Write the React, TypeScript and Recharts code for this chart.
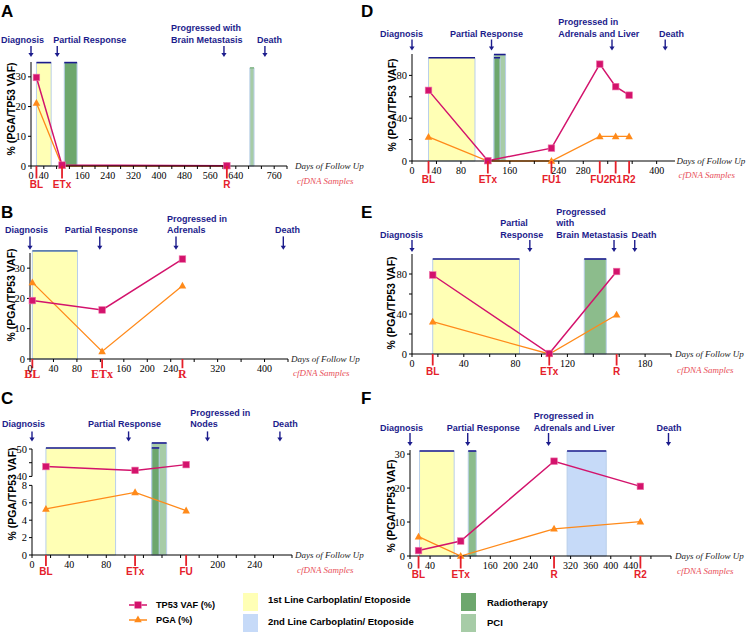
import React from "react";
import {
  ComposedChart,
  Line,
  XAxis,
  YAxis,
  ReferenceArea,
  ReferenceLine,
  ReferenceDot,
} from "recharts";

// ---- data (days of follow up, % values) ----

// A
const aDays = [17, 97, 612];
const aSamples = ["BL", "ETx", "R"];
const aTp53 = [29.8, 0.3, 0.1];
const aPga = [21.2, 0, 0];
const aEventDays = [0, 82, 603, 731];
const aEvents = [["Diagnosis"], ["Partial Response"], ["Progressed with", "Brain Metastasis"], ["Death"]];
const aTreatDays: [number, number][] = [[17, 63], [104, 144], [684, 697]];
const aTreatKinds = ["first", "radio", "pci"];

// B
const bDays = [4, 123, 260];
const bSamples = ["BL", "ETx", "R"];
const bTp53 = [19.3, 16.2, 33];
const bPga = [25.3, 2.5, 24.2];
const bEventDays = [0, 119, 249, 432];
const bEvents = [["Diagnosis"], ["Partial Response"], ["Progressed in", "Adrenals"], ["Death"]];
const bTreatDays: [number, number][] = [[4, 81]];
const bTreatKinds = ["first"];

// C (TP53 on the upper part of a broken axis)
const cDays = [15, 111, 166];
const cSamples = ["BL", "ETx", "FU"];
const cTp53 = [43.6, 42.2, 44.3];
const cPga = [5.3, 7.2, 5.1];
const cEventDays = [0, 104, 189, 267];
const cEvents = [["Diagnosis"], ["Partial Response"], ["Progressed in", "Nodes"], ["Death"]];
const cTreatDays: [number, number][] = [[15, 90], [129, 145], [129, 137]];
const cTreatKinds = ["first", "pci", "radio"];

// D
const dDays = [27, 124, 228, 307, 333, 355];
const dSamples = ["BL", "ETx", "FU1", "FU2", "R1", "R2"];
const dTp53 = [66, 0.3, 12, 90.5, 69.5, 61.5];
const dPga = [22.5, 0, 0, 23, 23, 23];
const dEventDays = [0, 130, 327, 414];
const dEvents = [["Diagnosis"], ["Partial Response"], ["Progressed in", "Adrenals and Liver"], ["Death"]];
const dTreatDays: [number, number][] = [[27, 103], [134, 153], [134, 144]];
const dTreatKinds = ["first", "pci", "radio"];

// E
const eDays = [16, 106, 158];
const eSamples = ["BL", "ETx", "R"];
const eTp53 = [79, 0.5, 82.5];
const ePga = [32.3, 0, 39.3];
const eEventDays = [0, 91, 156, 172];
const eEvents = [["Diagnosis"], ["Partial", "Response"], ["Progressed", "with", "Brain Metastasis"], ["Death"]];
const eTreatDays: [number, number][] = [[16, 83], [133, 150]];
const eTreatKinds = ["first", "rt"];

// F
const fDays = [17, 101, 287, 459];
const fSamples = ["BL", "ETx", "R", "R2"];
const fTp53 = [1.6, 4.4, 27.9, 20.5];
const fPga = [5.7, 0, 8, 10.1];
const fEventDays = [0, 115, 276, 515];
const fEvents = [["Diagnosis"], ["Partial Response"], ["Progressed in", "Adrenals and Liver"], ["Death"]];
const fTreatDays: [number, number][] = [[19, 88], [116, 132], [313, 391]];
const fTreatKinds = ["first", "rt", "second"];

// ---- styles ----
const NAVY = "#1C1C8C";
const PINK = "#D3136C";
const ORANGE = "#FF8A1A";
const RED = "#E5202A";
const SANS = "'Liberation Sans', Arial, sans-serif";
const SERIF = "'Liberation Serif', 'Times New Roman', serif";

const FILLS: Record<string, string> = {
  first: "#FFFFB5",
  second: "#C6DAF8",
  radio: "#6DA76D",
  rt: "#8CBC8C",
  pci: "#A7CCA7",
};

// break of the y axis in panel C: 40..50 sits above 0..8
const cBreakBase = 9.03;
const cBreakScale = 0.315;
const cMap = (v: number) => cBreakBase + (v - 40) * cBreakScale;

type Spec = {
  left: number;
  top: number;
  width: number;
  yW: number;
  mt: number;
  mr: number;
  xH: number;
  xMax: number;
  yMax: number;
  xTicks: number[];
  xLabels: number[];
  yTicks: number[];
  yFmt: (v: number) => string;
  days: number[];
  tp53: number[];
  pga: number[];
  samples: string[];
  eventDays: number[];
  events: string[][];
  eventDx: number[];
  treatDays: [number, number][];
  treatKinds: string[];
  treatTops: number[];
  treatLine: string[];
  textOff: number;
  a1: number;
  a2: number;
  sampleDy: number;
  sampleSerif?: boolean;
  daysDx: number;
  cfDy: number;
  tpMap?: (v: number) => number;
  axisSegments?: [number, number][];
};

const PANEL_H = 195;

const specs: Spec[] = [
  {
    left: 0, top: 0, width: 373, yW: 31, mt: 62, mr: 86, xH: 29,
    xMax: 800, yMax: 35,
    xTicks: [0, 40, 80, 120, 160, 200, 240, 280, 320, 360, 400, 440, 480, 520, 560, 600, 640, 680, 720, 760, 800],
    xLabels: [0, 40, 160, 240, 320, 400, 480, 560, 640, 760],
    yTicks: [0, 10, 20, 30], yFmt: (v) => String(v),
    days: aDays, tp53: aTp53, pga: aPga, samples: aSamples,
    eventDays: aEventDays, events: aEvents, eventDx: [-30, -4, -53, -8],
    treatDays: aTreatDays, treatKinds: aTreatKinds, treatTops: [34.8, 34.8, 33],
    treatLine: [NAVY, NAVY, "#86B886"],
    textOff: 22.5, a1: 16, a2: 5, sampleDy: 18, daysDx: 8, cfDy: 15,
  },
  {
    left: 373, top: 0, width: 374, yW: 39, mt: 54, mr: 72, xH: 34,
    xMax: 430, yMax: 100,
    xTicks: [0, 40, 80, 120, 160, 200, 240, 280, 320, 360, 400],
    xLabels: [0, 40, 80, 160, 240, 280, 400],
    yTicks: [0, 20, 40, 60, 80], yFmt: (v) => (v % 40 === 0 ? String(v) : ""),
    days: dDays, tp53: dTp53, pga: dPga, samples: dSamples,
    eventDays: dEventDays, events: dEvents, eventDx: [-32, -41.6, -53.7, -6.3],
    treatDays: dTreatDays, treatKinds: dTreatKinds, treatTops: [96.5, 99.5, 96.5],
    treatLine: [NAVY, NAVY, NAVY],
    textOff: 20.5, a1: 14.5, a2: 3.5, sampleDy: 18, daysDx: 1.5, cfDy: 14,
  },
  {
    left: 0, top: 195, width: 373, yW: 30, mt: 58, mr: 85, xH: 31,
    xMax: 440, yMax: 35,
    xTicks: [0, 40, 80, 120, 160, 200, 240, 280, 320, 360, 400, 440],
    xLabels: [0, 40, 80, 160, 200, 240, 320, 400],
    yTicks: [0, 10, 20, 30], yFmt: (v) => String(v),
    days: bDays, tp53: bTp53, pga: bPga, samples: bSamples,
    eventDays: bEventDays, events: bEvents, eventDx: [-25, -35, -9, -8.3],
    treatDays: bTreatDays, treatKinds: bTreatKinds, treatTops: [35.7],
    treatLine: ["#5E7FB0"],
    textOff: 22.6, a1: 16.6, a2: 3.3, sampleDy: 14.7, sampleSerif: true, daysDx: 3, cfDy: 14,
  },
  {
    left: 373, top: 195, width: 374, yW: 39, mt: 59, mr: 76, xH: 36,
    xMax: 200, yMax: 100,
    xTicks: [0, 20, 40, 60, 80, 100, 120, 140, 160, 180, 200],
    xLabels: [0, 40, 80, 120, 180],
    yTicks: [0, 20, 40, 60, 80], yFmt: (v) => (v % 40 === 0 ? String(v) : ""),
    days: eDays, tp53: eTp53, pga: ePga, samples: eSamples,
    eventDays: eEventDays, events: eEvents, eventDx: [-32, -29.6, -57.7, -3.3],
    treatDays: eTreatDays, treatKinds: eTreatKinds, treatTops: [95, 95],
    treatLine: [NAVY, NAVY],
    textOff: 19.5, a1: 14, a2: 2, sampleDy: 17, daysDx: 4, cfDy: 15.7,
  },
  {
    left: 0, top: 390, width: 373, yW: 32, mt: 59, mr: 81, xH: 30,
    xMax: 280, yMax: 12.18,
    xTicks: [0, 20, 40, 60, 80, 100, 120, 140, 160, 180, 200, 220, 240, 260, 280],
    xLabels: [0, 40, 80, 200, 240],
    yTicks: [0, 2, 4, 6, 8, cMap(40), cMap(45), cMap(50)],
    yFmt: (v) => (v <= 8 ? String(v) : Math.abs(v - cMap(40)) < 0.01 ? "40" : Math.abs(v - cMap(50)) < 0.01 ? "50" : ""),
    days: cDays, tp53: cTp53, pga: cPga, samples: cSamples,
    eventDays: cEventDays, events: cEvents, eventDx: [-30, -40.6, -17.3, -7.3],
    treatDays: cTreatDays, treatKinds: cTreatKinds, treatTops: [12.3, 12.87, 12.3],
    treatLine: [NAVY, NAVY, NAVY],
    textOff: 25, a1: 17.6, a2: 7.6, sampleDy: 16.4, daysDx: 3, cfDy: 14.7,
    tpMap: cMap,
    axisSegments: [[0, 8], [cMap(40), cMap(50)]],
  },
  {
    left: 373, top: 390, width: 374, yW: 37, mt: 60, mr: 76, xH: 29,
    xMax: 520, yMax: 31.2,
    xTicks: [0, 40, 80, 120, 160, 200, 240, 280, 320, 360, 400, 440, 480, 520],
    xLabels: [0, 40, 160, 200, 240, 320, 360, 400, 440],
    yTicks: [0, 10, 20, 30], yFmt: (v) => String(v),
    days: fDays, tp53: fTp53, pga: fPga, samples: fSamples,
    eventDays: fEventDays, events: fEvents, eventDx: [-30, -21, -14.7, -12],
    treatDays: fTreatDays, treatKinds: fTreatKinds, treatTops: [30.9, 30.9, 30.9],
    treatLine: [NAVY, NAVY, NAVY],
    textOff: 22.5, a1: 17, a2: 4, sampleDy: 18, daysDx: 4, cfDy: 14.7,
  },
];

const square = (p: any) => {
  if (p.cx == null) return <g key={p.key} />;
  return (
    <rect key={p.key} x={p.cx - 3.3} y={p.cy - 3.3} width={6.6} height={6.6}
      fill={PINK} stroke="#EE74AA" strokeWidth={0.6} />
  );
};

const triangle = (p: any) => {
  if (p.cx == null) return <g key={p.key} />;
  const { cx, cy } = p;
  return <path key={p.key} d={`M${cx},${cy - 4} L${cx + 3.8},${cy + 2.8} L${cx - 3.8},${cy + 2.8} Z`} fill={ORANGE} />;
};

function Panel({ s }: { s: Spec }) {
  const rows = s.days.map((d, i) => ({
    day: d,
    tp53: s.tpMap ? s.tpMap(s.tp53[i]) : s.tp53[i],
    pga: s.pga[i],
  }));

  const xTick = (p: any) => {
    const v = p.payload.value;
    if (!s.xLabels.includes(v)) return <g />;
    return (
      <text x={p.x} y={p.y + 6} textAnchor="middle" dominantBaseline="central"
        fontFamily={SERIF} fontSize={10} fill="#000">{v}</text>
    );
  };
  const yTick = (p: any) => (
    <text x={p.x} y={p.y} textAnchor="end" dominantBaseline="central"
      fontFamily={SERIF} fontSize={10.5} fill="#000">{s.yFmt(p.payload.value)}</text>
  );

  return (
    <div style={{ position: "absolute", left: s.left, top: s.top }}>
      <ComposedChart width={s.width} height={PANEL_H} data={rows}
        margin={{ top: s.mt, right: s.mr, left: 0, bottom: 0 }}>
        <XAxis type="number" dataKey="day" domain={[0, s.xMax]} ticks={s.xTicks} interval={0}
          height={s.xH} tickSize={3} tickMargin={0} stroke="#000" tick={xTick} />
        <YAxis type="number" domain={[0, s.yMax]} ticks={s.yTicks} interval={0}
          width={s.yW} tickSize={3} tickMargin={2} stroke="#000" tick={yTick}
          axisLine={!s.axisSegments} />
        {s.axisSegments &&
          s.axisSegments.map(([y1, y2], i) => (
            <ReferenceLine key={"ax" + i} segment={[{ x: 0, y: y1 }, { x: 0, y: y2 }]}
              stroke="#000" strokeWidth={1} ifOverflow="visible" />
          ))}
        {s.treatDays.map(([a, b], i) => (
          <ReferenceArea key={"t" + i} x1={a} x2={b} y1={0} y2={s.treatTops[i]}
            fill={FILLS[s.treatKinds[i]]} fillOpacity={1} stroke="#B9CFEA" strokeWidth={1}
            ifOverflow="visible" />
        ))}
        {s.treatDays.map(([a, b], i) => (
          <ReferenceLine key={"tl" + i} segment={[{ x: a, y: s.treatTops[i] }, { x: b, y: s.treatTops[i] }]}
            stroke={s.treatLine[i]} strokeWidth={1.6} ifOverflow="visible" />
        ))}
        <Line type="linear" dataKey="pga" stroke={ORANGE} strokeWidth={1.3}
          dot={triangle} activeDot={false} isAnimationActive={false} />
        <Line type="linear" dataKey="tp53" stroke={PINK} strokeWidth={1.5}
          dot={square} activeDot={false} isAnimationActive={false} />
        {s.eventDays.map((d, i) => (
          <ReferenceDot key={"e" + i} x={d} y={s.yMax} ifOverflow="visible"
            shape={(p: any) => {
              const { cx, cy } = p;
              const lines = s.events[i];
              const head = cy - s.a2;
              return (
                <g>
                  <line x1={cx} x2={cx} y1={cy - s.a1} y2={head - 3} stroke={NAVY} strokeWidth={1.4} />
                  <path d={`M${cx - 2.6},${head - 4} L${cx + 2.6},${head - 4} L${cx},${head} Z`} fill={NAVY} />
                  {lines.map((t, k) => (
                    <text key={k} x={cx + s.eventDx[i]}
                      y={cy - s.textOff - (lines.length - 1 - k) * 11.3}
                      dominantBaseline="central" fontFamily={SANS} fontWeight="bold"
                      fontSize={9} fill={NAVY}>{t}</text>
                  ))}
                </g>
              );
            }} />
        ))}
        {s.days.map((d, i) => (
          <ReferenceDot key={"s" + i} x={d} y={0} ifOverflow="visible"
            shape={(p: any) => (
              <g>
                <line x1={p.cx} x2={p.cx} y1={p.cy} y2={p.cy + s.sampleDy - 5.5} stroke={RED} strokeWidth={1.8} />
                <text x={p.cx} y={p.cy + s.sampleDy} textAnchor="middle" dominantBaseline="central"
                  fontFamily={s.sampleSerif ? SERIF : SANS} fontWeight="bold"
                  fontSize={s.sampleSerif ? 12 : 10} fill={RED}>{s.samples[i]}</text>
              </g>
            )} />
        ))}
        <ReferenceDot x={s.xMax} y={0} ifOverflow="visible"
          shape={(p: any) => (
            <g>
              <text x={p.cx + s.daysDx} y={p.cy} dominantBaseline="central" fontFamily={SERIF}
                fontStyle="italic" fontSize={9} fill="#222">Days of Follow Up</text>
              <text x={p.cx + s.daysDx + 2} y={p.cy + s.cfDy} dominantBaseline="central" fontFamily={SERIF}
                fontStyle="italic" fontSize={9} fill="#E8505A">cfDNA Samples</text>
            </g>
          )} />
      </ComposedChart>
    </div>
  );
}

const letters: [string, number, number][] = [
  ["A", 1, 17], ["D", 361, 17], ["B", 1, 218], ["E", 361, 218], ["C", 1, 404], ["F", 361, 404],
];
const yTitles: [number, number][] = [
  [11, 109], [392, 105], [11, 295], [390.5, 303], [12, 494], [390.5, 506],
];

function Overlay() {
  return (
    <svg width={747} height={632} style={{ position: "absolute", left: 0, top: 0, pointerEvents: "none" }}>
      {letters.map(([t, x, y]) => (
        <text key={t} x={x} y={y} fontFamily={SANS} fontWeight="bold" fontSize={17} fill="#000">{t}</text>
      ))}
      {yTitles.map(([x, y], i) => (
        <text key={i} transform={`translate(${x},${y}) rotate(-90)`} textAnchor="middle"
          dominantBaseline="central" fontFamily={SANS} fontWeight="bold" fontSize={10.5} fill="#000">
          % (PGA/TP53 VAF)
        </text>
      ))}
      {/* legend */}
      <line x1={129} x2={147} y1={605} y2={605} stroke={PINK} strokeWidth={1.5} />
      {square({ cx: 138, cy: 605, key: "lg1" })}
      <text x={156} y={605} dominantBaseline="central" fontFamily={SANS} fontWeight="bold" fontSize={9.2}>TP53 VAF (%)</text>
      <line x1={129} x2={147} y1={620} y2={620} stroke={ORANGE} strokeWidth={1.5} />
      {triangle({ cx: 138, cy: 619.5, key: "lg2" })}
      <text x={156} y={620} dominantBaseline="central" fontFamily={SANS} fontWeight="bold" fontSize={9.2}>PGA (%)</text>

      <rect x={243} y={593} width={15} height={18} fill={FILLS.first} />
      <text x={268} y={599.5} dominantBaseline="central" fontFamily={SANS} fontWeight="bold" fontSize={9.5}>1st Line Carboplatin/ Etoposide</text>
      <rect x={243} y={614} width={15} height={18} fill={FILLS.second} />
      <text x={268} y={621.7} dominantBaseline="central" fontFamily={SANS} fontWeight="bold" fontSize={9.5}>2nd Line Carboplatin/ Etoposide</text>

      <rect x={461} y={593} width={15} height={18} fill={FILLS.radio} />
      <text x={487} y={602} dominantBaseline="central" fontFamily={SANS} fontWeight="bold" fontSize={9.5}>Radiotherapy</text>
      <rect x={461} y={614} width={15} height={18} fill={FILLS.pci} />
      <text x={487} y={622} dominantBaseline="central" fontFamily={SANS} fontWeight="bold" fontSize={9.5}>PCI</text>
    </svg>
  );
}

export default function App() {
  return (
    <div style={{ position: "absolute", left: 0, top: 0, width: 747, height: 632, background: "#fff" }}>
      {specs.map((s, i) => (
        <Panel key={i} s={s} />
      ))}
      <Overlay />
    </div>
  );
}
